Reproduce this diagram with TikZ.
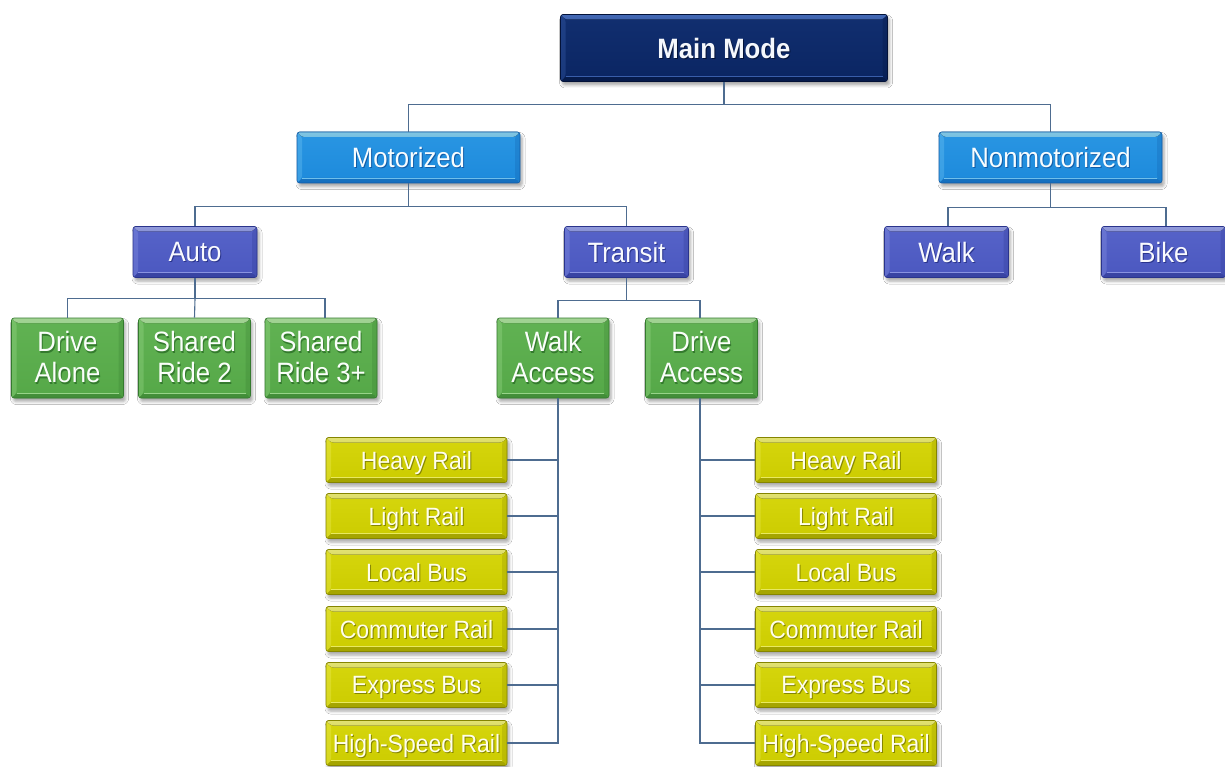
\documentclass[tikz,border=0pt]{standalone}
\usepackage{fontspec}
\setmainfont{Liberation Sans}[FakeStretch=0.92]
\usetikzlibrary{shadows.blur}

% palette
\definecolor{linkcol}{HTML}{4E6C90}
\definecolor{navyB}{HTML}{0B2766}
\definecolor{navyL}{HTML}{4A74C8}
\definecolor{navyD}{HTML}{031238}
\definecolor{skyB}{HTML}{1E8EE0}
\definecolor{skyL}{HTML}{8FDAFA}
\definecolor{skyD}{HTML}{115CA8}
\definecolor{periB}{HTML}{4E5BC4}
\definecolor{periL}{HTML}{A0AAF0}
\definecolor{periD}{HTML}{2A348C}
\definecolor{grnB}{HTML}{58AC4A}
\definecolor{grnL}{HTML}{B4EAA4}
\definecolor{grnD}{HTML}{347A2E}
\definecolor{yelB}{HTML}{D2D200}
\definecolor{yelL}{HTML}{F8F880}
\definecolor{yelD}{HTML}{858500}

% text with a soft offset shadow in the box's dark tone
\newcommand{\shcol}{black}
\newcommand{\ts}[1]{\leavevmode\rlap{\kern1pt\raisebox{-1.3pt}{\textcolor{\shcol}{#1}}}#1}

\tikzset{
  link/.style={draw=linkcol, line width=1.1pt},
  box/.style n args={3}{
    rectangle, rounded corners=2.5pt, inner sep=0pt, align=center,
    text=white!94!#2,
    execute at begin node={\def\shcol{#3}},
    draw=#3, line width=0.6pt,
    top color=#1!90!#2, bottom color=#1!92!#3,
    blur shadow={shadow xshift=2pt, shadow yshift=-3.5pt, shadow opacity=35, shadow blur radius=3pt},
    path picture={
      % top bevel
      \fill[top color=#2, bottom color=#1, opacity=0.9]
        (path picture bounding box.north west) -- (path picture bounding box.north east)
        -- ([xshift=-5pt,yshift=-5pt]path picture bounding box.north east)
        -- ([xshift=5pt,yshift=-5pt]path picture bounding box.north west) -- cycle;
      % bottom bevel
      \fill[#3, opacity=0.55]
        (path picture bounding box.south west) -- (path picture bounding box.south east)
        -- ([xshift=-5pt,yshift=5pt]path picture bounding box.south east)
        -- ([xshift=5pt,yshift=5pt]path picture bounding box.south west) -- cycle;
      \draw[#2, opacity=0.75, line width=0.9pt]
        ([xshift=5pt,yshift=5pt]path picture bounding box.south west)
        -- ([xshift=-5pt,yshift=5pt]path picture bounding box.south east);
      % side bevels
      \fill[#2, opacity=0.25]
        (path picture bounding box.north west) -- ([xshift=5pt,yshift=-5pt]path picture bounding box.north west)
        -- ([xshift=5pt,yshift=5pt]path picture bounding box.south west)
        -- (path picture bounding box.south west) -- cycle;
      \fill[#3, opacity=0.25]
        (path picture bounding box.north east) -- ([xshift=-5pt,yshift=-5pt]path picture bounding box.north east)
        -- ([xshift=-5pt,yshift=5pt]path picture bounding box.south east)
        -- (path picture bounding box.south east) -- cycle;
    }
  },
  mainbox/.style={box={navyB}{navyL}{navyD}, minimum width=327pt, minimum height=67pt,
    font=\fontsize{28}{30}\selectfont\bfseries, text depth=0pt},
  skybox/.style={box={skyB}{skyL}{skyD}, minimum width=223pt, minimum height=51pt,
    font=\fontsize{28}{30}\selectfont, text depth=0pt},
  peribox/.style={box={periB}{periL}{periD}, minimum width=124pt, minimum height=51pt,
    font=\fontsize{28}{30}\selectfont, text depth=0pt},
  grnbox/.style={box={grnB}{grnL}{grnD}, minimum width=112pt, minimum height=80pt,
    font=\fontsize{28}{31}\selectfont},
  yelbox/.style={box={yelB}{yelL}{yelD}, minimum width=181pt, minimum height=45pt,
    font=\fontsize{25}{27}\selectfont, text=white!92!yellow, text depth=0pt},
}

\begin{document}
\begin{tikzpicture}[x=1pt, y=-1pt]
\useasboundingbox[fill=white] (0,0) rectangle (1225,767);

% tree nodes
\node[mainbox] (main) at (724,48) {\ts{Main Mode}};

\node[skybox] (motor)  at (408.5,157.5) {\ts{Motorized}};
\node[skybox] (nonmot) at (1050.5,157.5) {\ts{Nonmotorized}};

\node[peribox] (auto)    at (195,252)    {\ts{Auto}};
\node[peribox] (transit) at (626.5,252)  {\ts{Transit}};
\node[peribox] (walk)    at (946.5,252)  {\ts{Walk}};
\node[peribox] (bike)    at (1163.5,252) {\ts{Bike}};

\node[grnbox] (alone) at (67.5,358)  {\ts{Drive}\\\ts{Alone}};
\node[grnbox] (sr2)   at (194.5,358) {\ts{Shared}\\\ts{Ride 2}};
\node[grnbox] (sr3)   at (321,358)   {\ts{Shared}\\\ts{Ride 3+}};
\node[grnbox] (wacc)  at (553,358)   {\ts{Walk}\\\ts{Access}};
\node[grnbox] (dacc)  at (701.5,358) {\ts{Drive}\\\ts{Access}};

% transit submodes under each access mode
\foreach \side/\cx in {l/416.5, r/846} {
  \node[yelbox] (\side hr)  at (\cx,460) {\ts{Heavy Rail}};
  \node[yelbox] (\side lr)  at (\cx,516) {\ts{Light Rail}};
  \node[yelbox] (\side lb)  at (\cx,572) {\ts{Local Bus}};
  \node[yelbox] (\side cr)  at (\cx,629) {\ts{Commuter Rail}};
  \node[yelbox] (\side eb)  at (\cx,685) {\ts{Express Bus}};
  \node[yelbox] (\side hsr) at (\cx,743) {\ts{High-Speed Rail}};
}

% connectors
\coordinate (j0) at ([yshift=-23pt]main.south);
\draw[link] (main.south) -- (j0) -| (motor.north);
\draw[link] (j0) -| (nonmot.north);

\coordinate (j1) at ([yshift=-23pt]motor.south);
\draw[link] (motor.south) -- (j1) -| (auto.north);
\draw[link] (j1) -| (transit.north);

\coordinate (j2) at ([yshift=-24pt]nonmot.south);
\draw[link] (nonmot.south) -- (j2) -| ([xshift=1.5pt]walk.north);
\draw[link] (j2) -| ([xshift=2.5pt]bike.north);

\coordinate (j3) at ([yshift=-21pt]auto.south);
\draw[link] (auto.south) -- (j3) -| (alone.north);
\draw[link] (j3) -- (sr2.north);
\draw[link] (j3) -| ([xshift=4pt]sr3.north);

\coordinate (j4) at ([yshift=-23pt]transit.south);
\draw[link] (transit.south) -- (j4) -| ([xshift=5pt]wacc.north);
\draw[link] (j4) -| ([xshift=-1.5pt]dacc.north);

\coordinate (ls) at ([xshift=5pt]wacc.south);
\coordinate (rs) at ([xshift=-1.5pt]dacc.south);
\draw[link] (ls) |- (lhsr.east);
\draw[link] (rs) |- (rhsr.west);
\foreach \n in {hr, lr, lb, cr, eb} {
  \draw[link] (l\n.east) -- (l\n.east -| ls);
  \draw[link] (r\n.west) -- (r\n.west -| rs);
}
\end{tikzpicture}
\end{document}
